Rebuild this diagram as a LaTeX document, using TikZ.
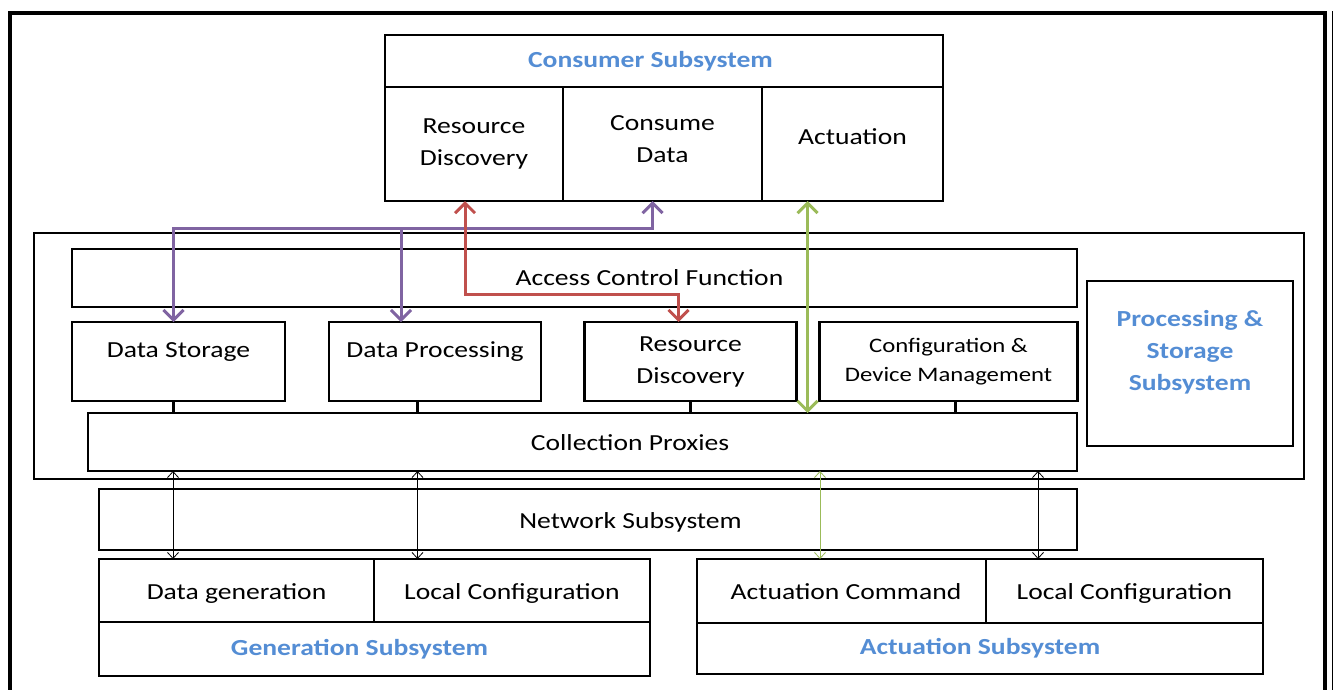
\documentclass[tikz,border=0pt]{standalone}
\usepackage{fontspec}
\setmainfont[FakeStretch=1.2]{Carlito}
\usepackage{tikz}
\usetikzlibrary{arrows.meta,calc}
\definecolor{subblue}{HTML}{548DD4}
\definecolor{arrpurple}{HTML}{8064A2}
\definecolor{arrred}{HTML}{C0504D}
\definecolor{arrgreen}{HTML}{9BBB59}
\newcommand{\fs}{\fontsize{23}{32}\selectfont}
\tikzset{
  box/.style={draw,line width=2.6pt,inner sep=0pt,outer sep=0pt,align=center,font=\fs},
  cell/.style={draw,line width=1.2pt,inner sep=0pt,outer sep=0pt,align=center,font=\fs},
  outline/.style={line width=2.6pt},
  uptext/.style={text height=16pt,text depth=24pt},
  lowtext/.style={text height=22pt,text depth=5pt},
  subname/.style={text=subblue,font=\fs\bfseries},
  link/.style={line width=3pt,>={Straight Barb[length=10pt,width=20pt]}},
  wire/.style={line width=0.8pt,>={Straight Barb[length=6pt,width=11pt]}},
  stub/.style={line width=3pt},
}

\begin{document}
\begin{tikzpicture}[x=1pt,y=-1pt]
  \useasboundingbox (0,0) rectangle (1336,689);
  % outer frame
  \draw[line width=4.5pt] (10,695) -- (10,13) -- (1325,13) -- (1325,695);
  \draw[line width=1pt] (1332.5,11) -- (1332.5,695);

  % consumer subsystem
  \node[cell,subname,minimum width=558pt,minimum height=52pt] (chdr) at (664,61) {Consumer Subsystem\hspace*{27pt}};
  \node[cell,minimum width=178pt,minimum height=114pt] (crd) at (474,144) {Resource\\Discovery};
  \node[cell,minimum width=199pt,minimum height=114pt] (ccd) at (662.5,144) {Consume\\Data\\[-23pt]\mbox{}};
  \node[cell,text height=16pt,text depth=15pt,minimum width=181pt,minimum height=114pt] (cact) at (852.5,144) {Actuation};
  \draw[outline] (chdr.north west) rectangle (cact.south east);

  % processing & storage subsystem
  \node[draw,line width=2pt,minimum width=1270pt,minimum height=246pt] (pss) at (669,356) {};
  \node[box,minimum width=1005pt,minimum height=58pt] (acf) at (574.5,278) {\hspace*{150pt}Access Control Function};
  \node[box,uptext,minimum width=213pt,minimum height=79pt] (dstor) at (178.5,361.5) {Data Storage};
  \node[box,uptext,minimum width=212pt,minimum height=79pt] (dproc) at (435,361.5) {Data Processing};
  \node[box,minimum width=212pt,minimum height=79pt] (rdisc) at (690.5,361.5) {Resource\\Discovery};
  \node[box,font=\fontsize{20.6}{29}\selectfont,minimum width=258pt,minimum height=79pt] (cfg) at (948.5,361.5) {Configuration \&\\Device Management};
  \node[box,lowtext,minimum width=989pt,minimum height=58pt] (cp) at (582.5,442) {\hspace*{95pt}Collection Proxies};
  \node[box,subname,minimum width=206pt,minimum height=165pt] (psub) at (1190,363.5) {Processing \&\\Storage\\Subsystem\\[-5pt]\mbox{}};

  % network subsystem
  \node[box,lowtext,minimum width=978pt,minimum height=61pt] (net) at (588,519.5) {\hspace*{85pt}Network Subsystem};

  % generation subsystem
  \node[cell,lowtext,minimum width=275pt,minimum height=63pt] (dgen) at (236.5,590.5) {Data generation};
  \node[cell,lowtext,minimum width=276pt,minimum height=63pt] (lcg) at (512,590.5) {Local Configuration};
  \node[cell,subname,minimum width=551pt,minimum height=54pt] (ghdr) at (374.5,649) {Generation Subsystem\hspace*{30pt}};
  \draw[outline] (dgen.north west) rectangle (ghdr.south east);

  % actuation subsystem
  \node[cell,lowtext,minimum width=289pt,minimum height=64pt] (acmd) at (841.5,591) {\hspace*{9pt}Actuation Command};
  \node[cell,lowtext,minimum width=277pt,minimum height=64pt] (lca) at (1124.5,591) {Local Configuration};
  \node[cell,subname,minimum width=566pt,minimum height=51pt] (ahdr) at (980,648.5) {Actuation Subsystem};
  \draw[outline] (acmd.north west) rectangle (ahdr.south east);

  % stubs to the proxies
  \draw[stub] ([xshift=-5pt]dstor.south) -- ([xshift=-5pt]dstor.south |- cp.north);
  \draw[stub] ([xshift=-18pt]dproc.south) -- ([xshift=-18pt]dproc.south |- cp.north);
  \draw[stub] (rdisc.south) -- (rdisc.south |- cp.north);
  \draw[stub] ([xshift=6.5pt]cfg.south) -- ([xshift=6.5pt]cfg.south |- cp.north);

  % consumer links
  \coordinate (pbus) at (0,228);
  \coordinate (rbus) at (0,294);
  \draw[link,<->,arrpurple] ([xshift=-10pt]ccd.south) |- ([xshift=-5pt]dstor.north |- pbus) -- ([xshift=-5pt]dstor.north);
  \draw[link,->,arrpurple] ([xshift=-34pt]dproc.north |- pbus) -- ([xshift=-34pt]dproc.north);
  \draw[link,<->,arrred] ([xshift=-9pt]crd.south) |- ([xshift=-12pt]rdisc.north |- rbus) -- ([xshift=-12pt]rdisc.north);
  \draw[link,<->,arrgreen] ([xshift=-45pt]cact.south) -- ([xshift=-45pt]cact.south |- cp.north);

  % device links
  \draw[wire,<->] ([xshift=-63.5pt]dgen.north |- cp.south) -- ([xshift=-63.5pt]dgen.north);
  \draw[wire,<->] ([xshift=-94.5pt]lcg.north |- cp.south) -- ([xshift=-94.5pt]lcg.north);
  \draw[wire,<->,arrgreen] ([xshift=-21.5pt]acmd.north |- cp.south) -- ([xshift=-21.5pt]acmd.north);
  \draw[wire,<->] ([xshift=-86.5pt]lca.north |- cp.south) -- ([xshift=-86.5pt]lca.north);
\end{tikzpicture}
\end{document}
